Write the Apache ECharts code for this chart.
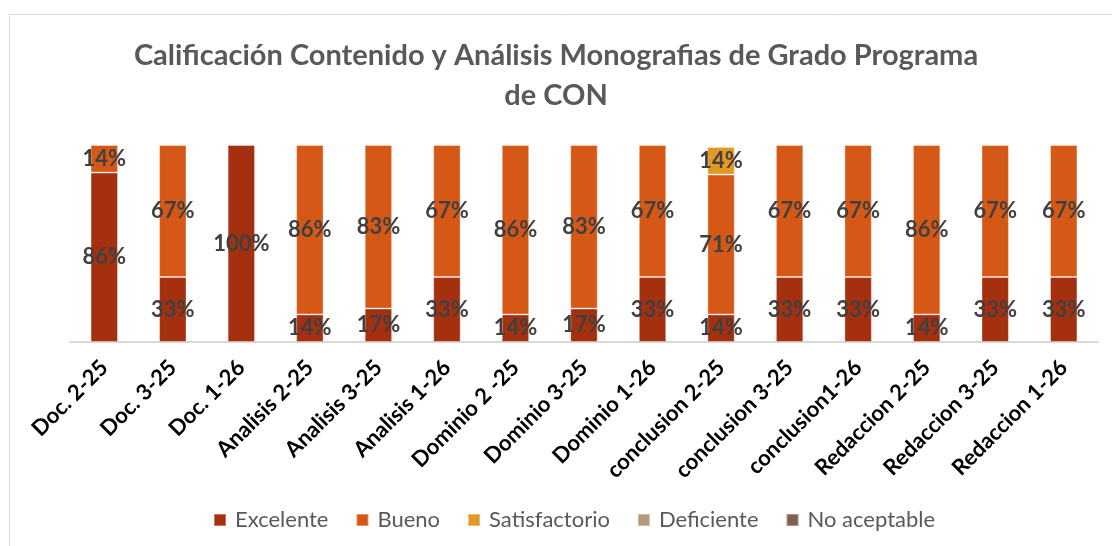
<!DOCTYPE html>
<html lang="es">
<head>
    <meta charset="UTF-8">
    <title>Calificación Contenido y Análisis</title>
    <script src="https://cdn.jsdelivr.net/npm/echarts@6.0.0/dist/echarts.min.js"></script>
    <style>
        html, body { margin: 0; padding: 0; background: #fff; }
        #chart { width: 1112px; height: 546px; }
    </style>
</head>
<body>
    <div id="chart"></div>
    <script>
        // datos
        const categorias = ['Doc. 2-25', 'Doc. 3-25', 'Doc. 1-26', 'Analisis 2-25', 'Analisis 3-25', 'Analisis 1-26',
            'Dominio 2 -25', 'Dominio 3-25', 'Dominio 1-26', 'conclusion 2-25', 'conclusion 3-25', 'conclusion1-26',
            'Redaccion 2-25', 'Redaccion 3-25', 'Redaccion 1-26'];
        const excelente = [86, 33, 100, 14, 17, 33, 14, 17, 33, 14, 33, 33, 14, 33, 33];
        const bueno = [14, 67, null, 86, 83, 67, 86, 83, 67, 71, 67, 67, 86, 67, 67];
        const satisfactorio = [null, null, null, null, null, null, null, null, null, 14, null, null, null, null, null];
        const deficiente = [null, null, null, null, null, null, null, null, null, null, null, null, null, null, null];
        const noAceptable = [null, null, null, null, null, null, null, null, null, null, null, null, null, null, null];

        const chart = echarts.init(document.getElementById('chart'));

        function serie(nombre, datos, color) {
            return {
                name: nombre,
                type: 'bar',
                stack: 'total',
                barWidth: '40%',
                data: datos,
                itemStyle: {
                    color: color,
                    borderColor: 'rgba(255,255,255,0.35)',
                    borderWidth: 1
                },
                label: {
                    show: true,
                    position: 'inside',
                    formatter: function (p) { return p.value ? p.value + '%' : ''; },
                    color: '#404040',
                    fontFamily: 'Lato',
                    fontWeight: 'bold',
                    fontSize: 22
                }
            };
        }

        chart.setOption({
            animation: false,
            graphic: [{
                type: 'rect',
                shape: { x: 9.5, y: 14.5, width: 1200, height: 600 },
                style: { fill: 'none', stroke: '#d9d9d9', lineWidth: 1 }
            }],
            title: {
                text: 'Calificación Contenido y Análisis Monografias de Grado Programa\nde CON',
                left: 'center',
                top: 31,
                textStyle: {
                    color: '#595959',
                    fontFamily: 'Lato',
                    fontWeight: 'bold',
                    fontSize: 29,
                    lineHeight: 40
                }
            },
            legend: {
                bottom: 10,
                left: 208,
                itemWidth: 12,
                itemHeight: 12,
                itemGap: 27,
                icon: 'rect',
                textStyle: { color: '#595959', fontFamily: 'Lato', fontSize: 22, padding: [0, 0, 0, 4] }
            },
            grid: { left: 70, right: 14, top: 145, bottom: 204 },
            xAxis: {
                type: 'category',
                data: categorias,
                axisLine: { lineStyle: { color: '#d9d9d9', width: 2 } },
                axisTick: { show: false },
                axisLabel: {
                    interval: 0,
                    rotate: 45,
                    margin: 22,
                    color: '#000',
                    fontFamily: 'Lato',
                    fontWeight: 'bold',
                    fontSize: 22
                }
            },
            yAxis: {
                type: 'value',
                min: 0,
                max: 100,
                show: false
            },
            series: [
                serie('Excelente', excelente, '#A5300F'),
                serie('Bueno', bueno, '#D55816'),
                serie('Satisfactorio', satisfactorio, '#E19825'),
                serie('Deficiente', deficiente, '#B19C7D'),
                serie('No aceptable', noAceptable, '#7F5F52')
            ]
        });
    </script>
</body>
</html>
